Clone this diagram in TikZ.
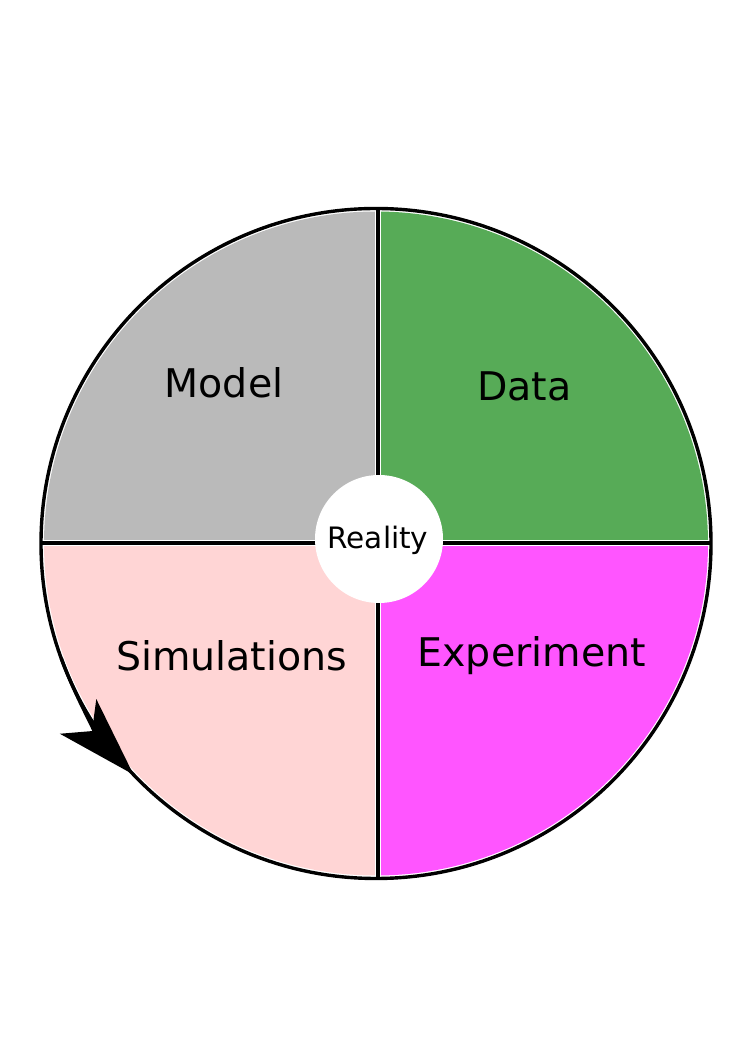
\documentclass[tikz,border=0pt]{standalone}
\usepackage{fontspec}
\setmainfont{DejaVu Sans}
\usetikzlibrary{arrows.meta}
\definecolor{modelgray}{HTML}{BABABA}
\definecolor{datagreen}{HTML}{57AB57}
\definecolor{experimentpink}{HTML}{FF55FF}
\definecolor{simulationrose}{HTML}{FFD5D5}

\begin{document}
\begin{tikzpicture}[x=1pt,y=1pt]
\tikzstyle{rim}=[draw=black, line width=3.4pt]
\tikzstyle{label}=[anchor=base, inner sep=0pt, font=\fontsize{39.5}{47}\selectfont]

\useasboundingbox (0,0) rectangle (745,1053);
\coordinate (c) at (376,509.5);
\coordinate (x) at (378,510);

% the four quarters
\begin{scope}
\clip (c) circle[radius=332];
\fill[modelgray] ([shift={(-3,3)}]x) rectangle ++(-340,340);
\fill[datagreen] ([shift={(3,3)}]x) rectangle ++(340,340);
\fill[experimentpink] ([shift={(3,-3)}]x) rectangle ++(340,-340);
\fill[simulationrose] ([shift={(-3,-3)}]x) rectangle ++(-340,-340);
\end{scope}

% rim and cross
\draw[rim] (c) circle[radius=335];
\draw[rim] (x |- 0,845) coordinate (top) -- (x |- 0,174) coordinate (bottom);
\draw[rim] (x -| 41,0) coordinate (left) -- (x -| 711,0) coordinate (right);

% cycle arrow
\draw[black, line width=3.4pt, -{Stealth[length=80pt, width=50pt, inset=20pt]}] ([shift={(200:335)}]c) arc[start angle=200, end angle=223.6, radius=335];

\draw (379,514) node[circle, fill=white, minimum size=128pt, inner sep=0pt] (reality) {};
\draw (378,504.7) node[label, font=\fontsize{29.5}{35}\selectfont] (realitytext) {Reality};

\draw (224,655.3) node[label] (model) {Model};
\draw (524.3,652) node[label] (data) {Data};
\draw (231.7,382) node[label] (simulations) {Simulations};
\draw (531.7,386.3) node[label] (experiment) {Experiment};
\end{tikzpicture}
\end{document}
